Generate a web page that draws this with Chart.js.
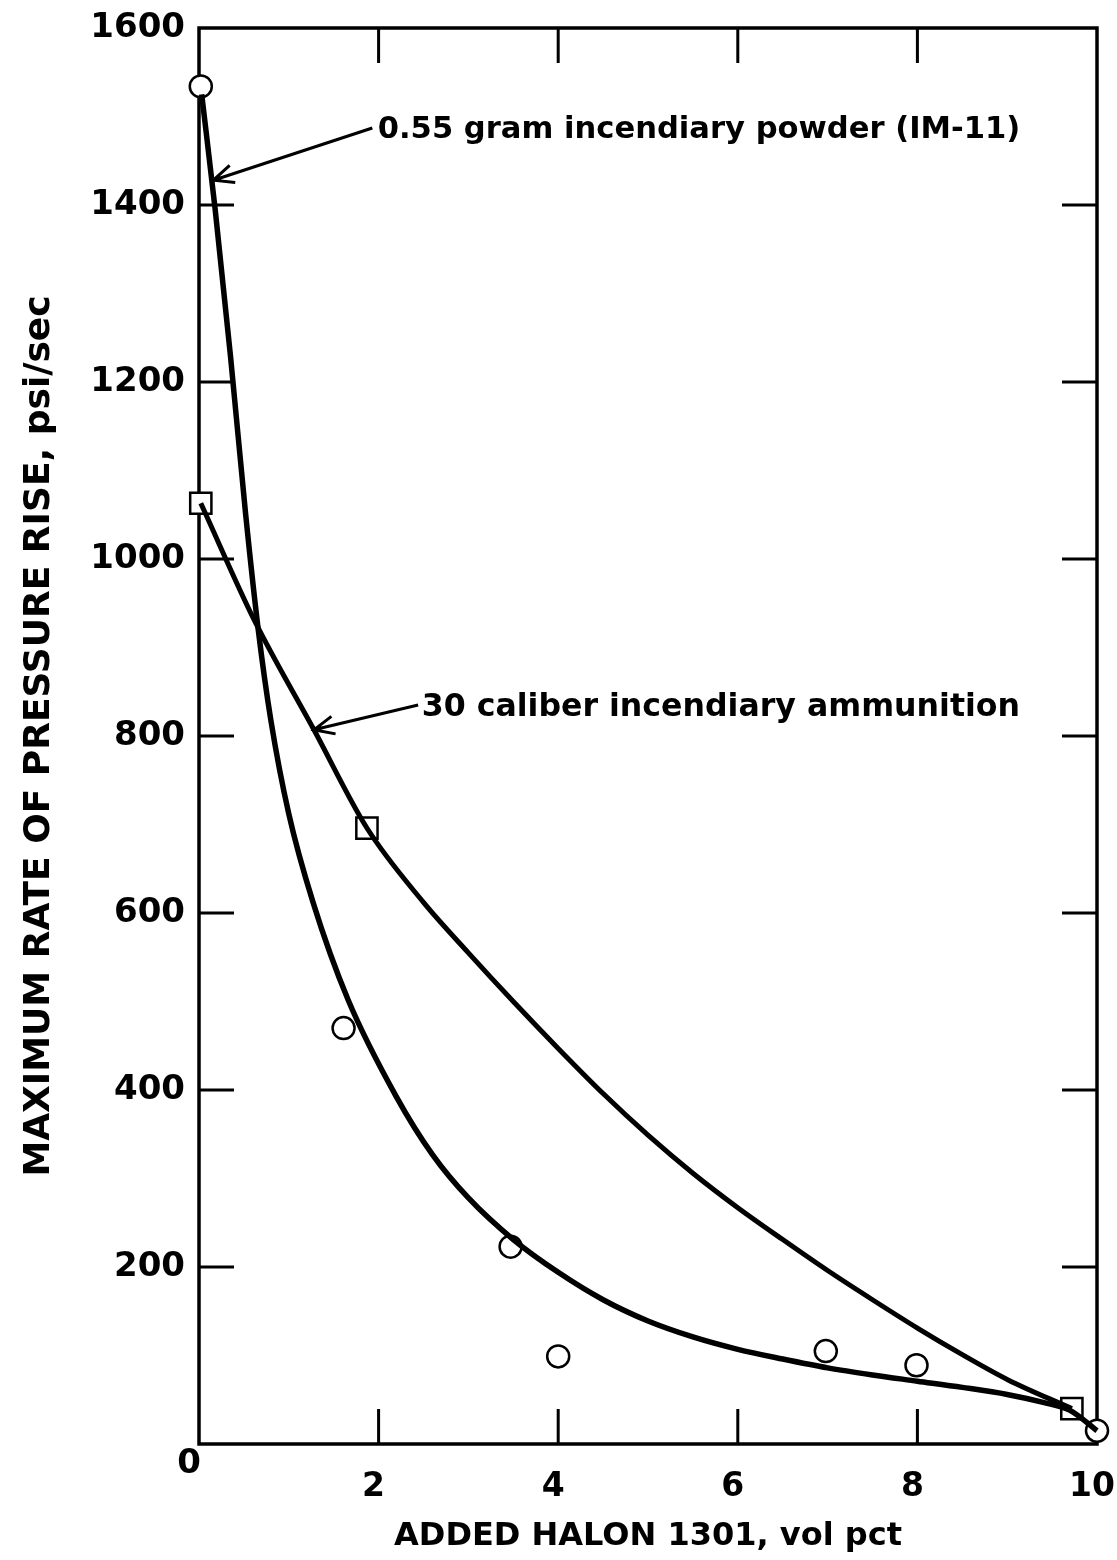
<!DOCTYPE html>
<html><head><meta charset="utf-8">
<script src="https://cdn.jsdelivr.net/npm/chart.js@4.4.1/dist/chart.umd.min.js"></script>
<style>html,body{margin:0;padding:0;background:#fff;}#wrap{width:1117px;height:1560px;position:relative;}</style>
</head><body><div id="wrap"><canvas id="c" width="1117" height="1560"></canvas></div>
<script>
// ---- data ----
const xTickValues = [0, 2, 4, 6, 8, 10];
const yTickValues = [0, 200, 400, 600, 800, 1000, 1200, 1400, 1600];

// measured points: 0.55 gram incendiary powder (IM-11)  (circles)
const imPointX = [0.02, 1.61, 3.47, 4.00, 6.98, 7.99, 10.0];
const imPointY = [1534, 470, 223, 99, 105, 89, 15];
// measured points: 30 caliber incendiary ammunition (squares)
const calPointX = [0.02, 1.87, 9.72];
const calPointY = [1063, 696, 40];

// hand-faired curves
const imCurveX = [0.03, 0.18, 0.35, 0.52, 0.66, 0.80, 1.00, 1.27, 1.66, 2.20, 2.60, 3.00, 3.50, 4.00, 4.50, 5.00, 5.50, 6.00, 6.50, 7.00, 7.50, 8.00, 8.50, 9.00, 9.40, 9.70, 10.0];
const imCurveY = [1525, 1395, 1230, 1050, 920, 818, 712, 612, 502, 392, 327, 278, 231, 194, 163, 139, 121, 107, 96, 86, 78, 71, 64, 56, 47, 38, 15];
const calCurveX = [0.02, 0.62, 1.28, 1.87, 2.50, 3.00, 3.50, 4.00, 4.50, 5.00, 5.50, 6.00, 6.50, 7.00, 7.50, 8.00, 8.50, 9.00, 9.72];
const calCurveY = [1063, 930, 807, 696, 612, 555, 500, 447, 396, 349, 306, 267, 231, 196, 163, 131, 101, 73, 40];

const xTitle = 'ADDED HALON 1301, vol pct';
const yTitle = 'MAXIMUM RATE OF PRESSURE RISE, psi/sec';
const label1 = '0.55 gram incendiary powder (IM-11)';
const label2 = '30 caliber incendiary ammunition';

const zip = (xs, ys) => xs.map((x, i) => ({x, y: ys[i]}));

const FONT = "'DejaVu Sans', sans-serif";
const WEIGHT = 'bold';
const annotations = [
  {text: label1, textX: 1.99, textY: 1485, tailX: 1.93, tailY: 1487, tipX: 0.16, tipY: 1428, width: 642},
  {text: label2, textX: 2.48, textY: 832, tailX: 2.44, tailY: 835, tipX: 1.28, tipY: 807, width: 598}
];

const framePlugin = {
  id: 'frame',
  beforeDatasetsDraw(chart) {
    const {ctx, chartArea: a, scales: {x, y}} = chart;
    ctx.save();
    ctx.strokeStyle = '#000';
    ctx.lineWidth = 3.5;
    ctx.strokeRect(a.left, a.top, a.right - a.left, a.bottom - a.top);
    ctx.lineWidth = 3;
    const L = 35;
    ctx.beginPath();
    x.ticks.forEach(t => {
      if (t.value <= x.min || t.value >= x.max) return;
      const px = x.getPixelForValue(t.value);
      ctx.moveTo(px, a.bottom); ctx.lineTo(px, a.bottom - L);
      ctx.moveTo(px, a.top); ctx.lineTo(px, a.top + L);
    });
    y.ticks.forEach(t => {
      if (t.value <= y.min || t.value >= y.max) return;
      const py = y.getPixelForValue(t.value);
      ctx.moveTo(a.left, py); ctx.lineTo(a.left + L, py);
      ctx.moveTo(a.right, py); ctx.lineTo(a.right - L, py);
    });
    ctx.stroke();
    ctx.restore();
  },
  afterDraw(chart) {
    const {ctx, scales: {x, y}} = chart;
    ctx.save();
    ctx.fillStyle = '#000';
    ctx.strokeStyle = '#000';
    // shared origin label
    ctx.font = WEIGHT + ' 34px ' + FONT;
    ctx.textAlign = 'center';
    ctx.textBaseline = 'middle';
    ctx.fillText('0', x.getPixelForValue(0) - 10, y.getPixelForValue(0) + 20);
    annotations.forEach(an => {
      let size = 40;
      ctx.font = WEIGHT + ' ' + size + 'px ' + FONT;
      const w = ctx.measureText(an.text).width;
      size = Math.min(40, size * an.width / w);
      ctx.font = WEIGHT + ' ' + size.toFixed(1) + 'px ' + FONT;
      ctx.textAlign = 'left';
      ctx.textBaseline = 'middle';
      ctx.fillText(an.text, x.getPixelForValue(an.textX), y.getPixelForValue(an.textY));
      const x0 = x.getPixelForValue(an.tailX), y0 = y.getPixelForValue(an.tailY);
      const x1 = x.getPixelForValue(an.tipX), y1 = y.getPixelForValue(an.tipY);
      ctx.lineWidth = 3;
      ctx.beginPath();
      ctx.moveTo(x0, y0); ctx.lineTo(x1, y1);
      const ang = Math.atan2(y0 - y1, x0 - x1);
      const hl = 22, ha = 0.42;
      ctx.moveTo(x1 + hl * Math.cos(ang + ha), y1 + hl * Math.sin(ang + ha));
      ctx.lineTo(x1, y1);
      ctx.lineTo(x1 + hl * Math.cos(ang - ha), y1 + hl * Math.sin(ang - ha));
      ctx.stroke();
    });
    ctx.restore();
  }
};

new Chart(document.getElementById('c'), {
  type: 'scatter',
  data: {
    datasets: [
      {label: 'IM-11 curve', data: zip(imCurveX, imCurveY), showLine: true, borderColor: '#000', borderWidth: 5.5,
       pointRadius: 0, cubicInterpolationMode: 'monotone', clip: false},
      {label: '30 caliber curve', data: zip(calCurveX, calCurveY), showLine: true, borderColor: '#000', borderWidth: 5,
       pointRadius: 0, cubicInterpolationMode: 'monotone', clip: false},
      {label: '0.55 gram incendiary powder (IM-11)', data: zip(imPointX, imPointY), showLine: false,
       pointStyle: 'circle', pointRadius: 11, pointBorderWidth: 2.5, pointBorderColor: '#000', pointBackgroundColor: '#fff', clip: false},
      {label: '30 caliber incendiary ammunition', data: zip(calPointX, calPointY), showLine: false,
       pointStyle: 'rect', pointRadius: 15, pointBorderWidth: 2.5, pointBorderColor: '#000', pointBackgroundColor: '#fff', clip: false}
    ]
  },
  options: {
    responsive: false,
    animation: false,
    events: [],
    layout: {padding: {top: 28, right: 20, left: 0, bottom: 0}},
    plugins: {legend: {display: false}, tooltip: {enabled: false}},
    scales: {
      x: {
        type: 'linear', min: 0, max: 10,
        afterBuildTicks: s => { s.ticks = xTickValues.map(v => ({value: v})); },
        afterFit: s => { s.height = 116; s.paddingLeft = 0; s.paddingRight = 0; },
        grid: {display: false, drawTicks: false},
        border: {display: false},
        ticks: {color: '#000', font: {family: FONT, size: 33, weight: WEIGHT}, padding: 24, maxRotation: 0, labelOffset: -5,
                callback: v => (v === 0 ? '' : String(v))},
        title: {display: true, text: xTitle, color: '#000', font: {family: FONT, size: 32, weight: WEIGHT}, padding: {top: 0, bottom: 4}}
      },
      y: {
        type: 'linear', min: 0, max: 1600,
        afterBuildTicks: s => { s.ticks = yTickValues.map(v => ({value: v})); },
        afterFit: s => { s.width = 199; s.paddingTop = 0; s.paddingBottom = 0; },
        grid: {display: false, drawTicks: false},
        border: {display: false},
        ticks: {color: '#000', font: {family: FONT, size: 34, weight: WEIGHT}, padding: 14,
                callback: v => (v === 0 ? '' : String(v))},
        title: {display: true, text: yTitle, color: '#000', font: {family: FONT, size: 36, weight: WEIGHT}, padding: {top: 18, bottom: 0}}
      }
    }
  },
  plugins: [framePlugin]
});
</script>
</body></html>
